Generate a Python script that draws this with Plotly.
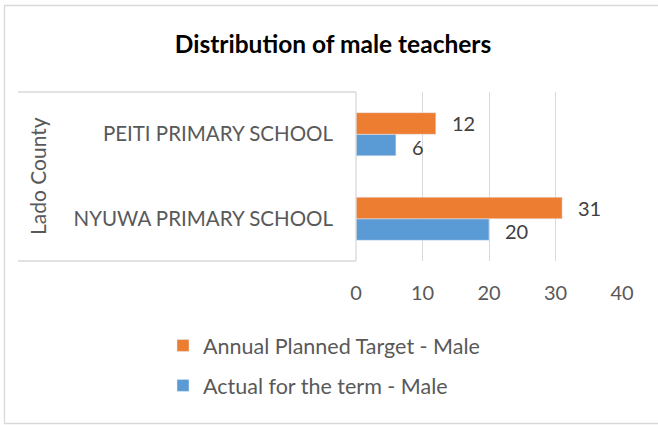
import plotly.graph_objects as go

categories = ["NYUWA PRIMARY SCHOOL", "PEITI PRIMARY SCHOOL"]
actual_male = [20, 6]
planned_male = [31, 12]
group_label = "Lado County"
x_ticks = [0, 10, 20, 30, 40]

W, H = 658, 425
L, R, T, B = 356, 622, 92, 261

def px(x):
    return (x - L) / (R - L)

def py(y):
    return (B - y) / (B - T)

FONT = "Lato"
fig = go.Figure()
fig.add_trace(go.Bar(
    y=categories, x=actual_male, orientation="h", name="Actual for the term - Male",
    marker_color="#5B9BD5", legendgroup="a", legendrank=2,
))
fig.add_trace(go.Bar(
    y=categories, x=planned_male, orientation="h", name="Annual Planned Target - Male",
    marker_color="#ED7D31", legendgroup="p", legendrank=1,
))

# data labels
for i, c in enumerate(categories):
    for vals, off in ((actual_male, -0.15), (planned_male, 0.13)):
        fig.add_annotation(
            x=vals[i], y=i + off, xref="x", yref="y",
            text=str(vals[i]), showarrow=False, xanchor="left", xshift=14,
            font=dict(family=FONT, size=20, color="#404040"),
        )

fig.add_annotation(
    x=px(37), y=py(176), xref="paper", yref="paper", text=group_label,
    textangle=-90, showarrow=False, xanchor="center", yanchor="middle",
    font=dict(family=FONT, size=21, color="#595959"),
)

line = dict(color="#D9D9D9", width=1.3)
shapes = [
    dict(type="line", xref="paper", yref="paper", x0=px(18), x1=px(356), y0=py(92), y1=py(92), line=line),
    dict(type="line", xref="paper", yref="paper", x0=px(18), x1=px(356), y0=py(261), y1=py(261), line=line),
    dict(type="line", xref="paper", yref="paper", x0=px(356), x1=px(356), y0=py(92), y1=py(261), line=line),
    dict(type="rect", xref="paper", yref="paper", x0=px(4.5), x1=px(670), y0=py(5.5), y1=py(423.5),
         line=dict(color="#D9D9D9", width=1.3), fillcolor="rgba(0,0,0,0)"),
]

fig.update_layout(
    width=W, height=H,
    margin=dict(l=L, r=W - R, t=T, b=H - B, pad=0),
    paper_bgcolor="white", plot_bgcolor="white",
    barmode="group", bargap=0.49, bargroupgap=0,
    title=dict(text="<b>Distribution of male teachers</b>", xref="container", x=333 / W, xanchor="center",
               yref="container", y=1 - 44 / H, yanchor="middle",
               font=dict(family=FONT, size=24.5, color="black")),
    xaxis=dict(range=[0, 40], tickvals=x_ticks, showgrid=True, gridcolor="#D9D9D9", gridwidth=1.3,
               zeroline=False, showline=False, ticks="",
               tickfont=dict(family=FONT, size=20, color="#595959"), ticklabelstandoff=18),
    yaxis=dict(categoryorder="array", categoryarray=categories, showgrid=False, showline=False,
               ticks="", tickfont=dict(family=FONT, size=20.5, color="#595959"), ticklabelstandoff=22),
    showlegend=True,
    legend=dict(orientation="v", traceorder="grouped", x=px(163), xanchor="left",
                y=py(325), yanchor="top", font=dict(family=FONT, size=21.5, color="#595959"),
                tracegroupgap=9, itemwidth=30, bgcolor="rgba(0,0,0,0)"),
    shapes=shapes,
)

fig.write_html("out.html", config={"displayModeBar": False},
               post_script="document.body.style.margin='0';")
